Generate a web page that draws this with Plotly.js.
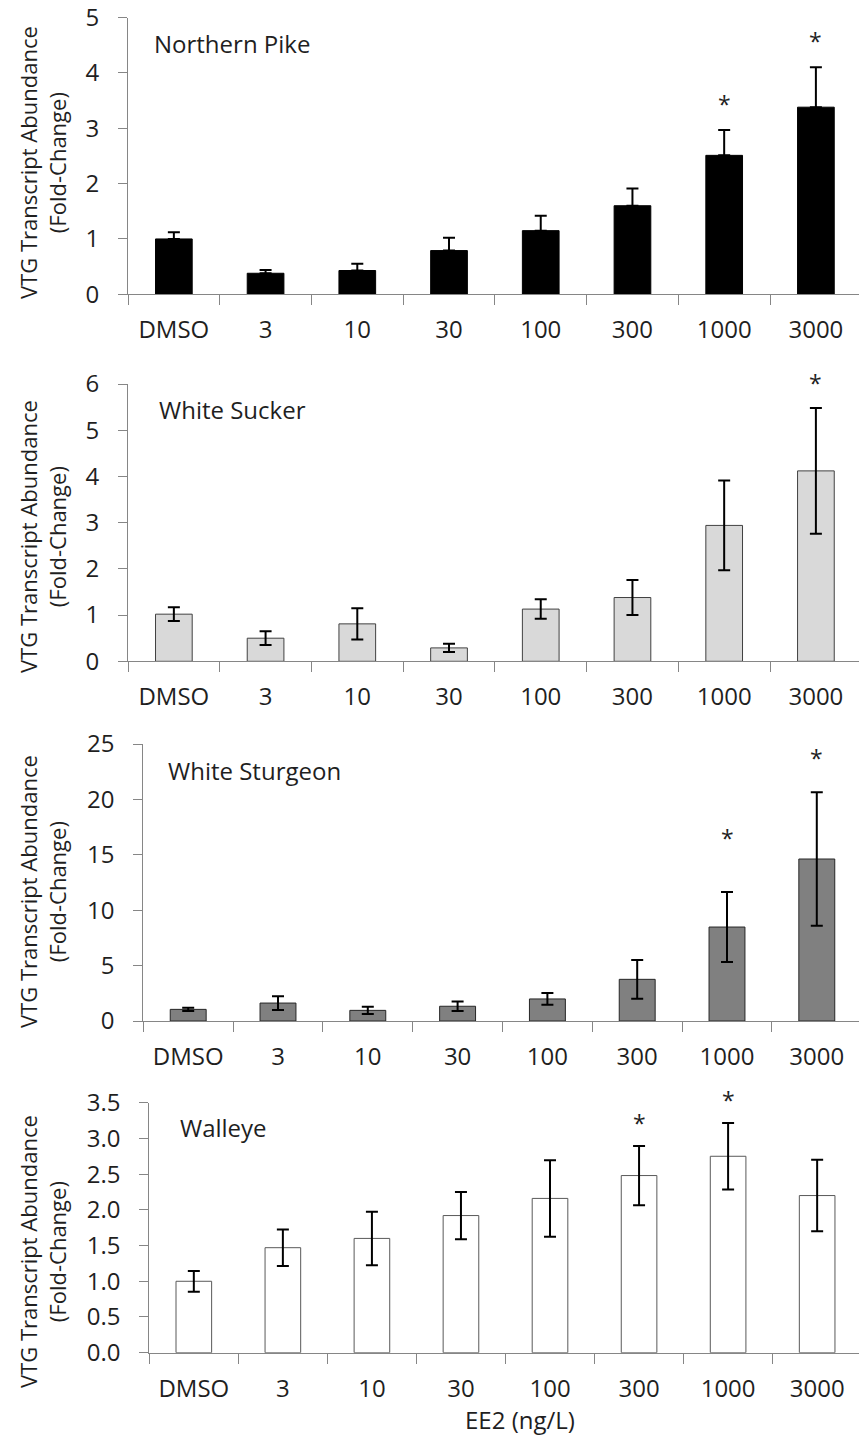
<!DOCTYPE html>
<html>
<head>
<meta charset="utf-8">
<script src="https://cdn.plot.ly/plotly-3.0.1.min.js"></script>
<style>
  html, body { margin: 0; padding: 0; background: #ffffff; }
  #chart { width: 859px; height: 1441px; }
</style>
</head>
<body>
<div id="chart"></div>
<script>
// ---------- data ----------
const categories = ['DMSO', '3', '10', '30', '100', '300', '1000', '3000'];

const pikeMean     = [1.00, 0.38, 0.43, 0.79, 1.15, 1.60, 2.51, 3.38];
const pikeErr      = [0.12, 0.06, 0.12, 0.23, 0.27, 0.31, 0.46, 0.72];
const pikeSig      = [false, false, false, false, false, false, true, true];

const suckerMean   = [1.02, 0.50, 0.81, 0.29, 1.13, 1.38, 2.94, 4.12];
const suckerErr    = [0.15, 0.15, 0.34, 0.09, 0.21, 0.38, 0.97, 1.36];
const suckerSig    = [false, false, false, false, false, false, false, true];

const sturgeonMean = [1.05, 1.62, 0.96, 1.33, 1.99, 3.76, 8.48, 14.62];
const sturgeonErr  = [0.15, 0.62, 0.32, 0.42, 0.53, 1.75, 3.16, 6.02];
const sturgeonSig  = [false, false, false, false, false, false, true, true];

const walleyeMean  = [1.00, 1.47, 1.60, 1.92, 2.16, 2.48, 2.75, 2.20];
const walleyeErr   = [0.145, 0.255, 0.375, 0.33, 0.535, 0.415, 0.465, 0.50];
const walleyeSig   = [false, false, false, false, false, true, true, false];

const speciesNames = ['Northern Pike', 'White Sucker', 'White Sturgeon', 'Walleye'];
const yTitle = 'VTG Transcript Abundance<br>(Fold-Change)';
const xTitle = 'EE2 (ng/L)';

// ---------- style / layout ----------
const W = 859, H = 1441;
const FONT = 'Open Sans, DejaVu Sans, sans-serif';
const TXT = '#1f1f1f';
const AX = '#868686';
const FS = 24;

// panel pixel geometry and label placement (style only)
const panels = [
  {left: 128,   top: 17.5,   bottom: 294.3,  range: [0, 5],   dtick: 1,   fmt: '',    titleY: 163,  nameX: 152, nameY: 43.5,
   starGap: [0, 0, 0, 0, 0, 0, 27, 27]},
  {left: 128,   top: 384,    bottom: 661.3,  range: [0, 6],   dtick: 1,   fmt: '',    titleY: 537,  nameX: 157, nameY: 410,
   starGap: [0, 0, 0, 0, 0, 0, 0, 26]},
  {left: 143.3, top: 744,    bottom: 1021,   range: [0, 25],  dtick: 5,   fmt: '',    titleY: 892,  nameX: 166, nameY: 770,
   starGap: [0, 0, 0, 0, 0, 0, 55, 35]},
  {left: 149.3, top: 1102.7, bottom: 1352.7, range: [0, 3.5], dtick: 0.5, fmt: '.1f', titleY: 1252, nameX: 178, nameY: 1127,
   starGap: [0, 0, 0, 0, 0, 24, 24, 0]}
];

const means = [pikeMean, suckerMean, sturgeonMean, walleyeMean];
const errs  = [pikeErr, suckerErr, sturgeonErr, walleyeErr];
const sigs  = [pikeSig, suckerSig, sturgeonSig, walleyeSig];
const fills = ['#000000', '#d9d9d9', '#808080', '#ffffff'];
const lines = ['#000000', '#404040', '#262626', '#595959'];

const traces = [];
const layout = {
  width: W, height: H,
  margin: {l: 0, r: 0, t: 0, b: 0},
  paper_bgcolor: '#ffffff',
  plot_bgcolor: 'rgba(0,0,0,0)',
  showlegend: false,
  font: {family: FONT, size: FS, color: TXT},
  annotations: []
};

panels.forEach((p, i) => {
  const n = i === 0 ? '' : String(i + 1);
  const xa = 'x' + n, ya = 'y' + n;

  const err = i === 0
    ? {type: 'data', symmetric: false, array: errs[i], arrayminus: errs[i].map(() => 0),
       color: '#000000', thickness: 2, width: 6}
    : {type: 'data', symmetric: true, array: errs[i], color: '#000000', thickness: 2, width: 6};

  traces.push({
    type: 'bar', x: categories, y: means[i], xaxis: xa, yaxis: ya,
    width: 0.4,
    marker: {color: fills[i], line: {color: lines[i], width: 1}},
    error_y: err,
    hoverinfo: 'skip'
  });

  layout['xaxis' + n] = {
    type: 'category', anchor: ya,
    domain: [p.left / W, 1],
    range: [-0.5, 7.47],
    tickson: 'boundaries',
    ticks: 'outside', ticklen: 10, tickwidth: 1, tickcolor: AX,
    showline: true, linecolor: AX, linewidth: 1,
    showgrid: false, zeroline: false, fixedrange: true,
    tickfont: {family: FONT, size: FS, color: TXT},
    ticklabelstandoff: 14, ticklabeloverflow: 'allow'
  };
  layout['yaxis' + n] = {
    anchor: xa,
    domain: [1 - p.bottom / H, 1 - p.top / H],
    range: p.range, dtick: p.dtick, tick0: 0, tickformat: p.fmt,
    ticks: 'outside', ticklen: 9, tickwidth: 1, tickcolor: AX,
    showline: true, linecolor: AX, linewidth: 1,
    showgrid: false, zeroline: false, fixedrange: true,
    tickfont: {family: FONT, size: FS, color: TXT},
    ticklabelstandoff: 14, ticklabeloverflow: 'allow'
  };

  // significance asterisks, anchored at the top of each error bar (x = category index)
  categories.forEach((c, k) => {
    if (!sigs[i][k]) return;
    layout.annotations.push({
      xref: xa, yref: ya, x: k, y: means[i][k] + errs[i][k],
      xanchor: 'center', yanchor: 'middle', yshift: p.starGap[k] - 1,
      text: '*', showarrow: false,
      font: {family: FONT, size: 23, color: TXT}
    });
  });

  // y-axis title
  layout.annotations.push({
    xref: 'paper', yref: 'paper', x: 42 / W, y: 1 - p.titleY / H,
    xanchor: 'center', yanchor: 'middle', textangle: -90,
    text: yTitle, showarrow: false,
    font: {family: FONT, size: 22, color: TXT}
  });
  // species label
  layout.annotations.push({
    xref: 'paper', yref: 'paper', x: p.nameX / W, y: 1 - p.nameY / H,
    xanchor: 'left', yanchor: 'middle',
    text: speciesNames[i], showarrow: false,
    font: {family: FONT, size: FS, color: TXT}
  });
});

// x-axis title (bottom panel)
layout.annotations.push({
  xref: 'paper', yref: 'paper', x: 520 / W, y: 1 - 1419 / H,
  xanchor: 'center', yanchor: 'middle',
  text: xTitle, showarrow: false,
  font: {family: FONT, size: FS, color: TXT}
});

Plotly.newPlot('chart', traces, layout, {displayModeBar: false, staticPlot: true});
</script>
</body>
</html>
